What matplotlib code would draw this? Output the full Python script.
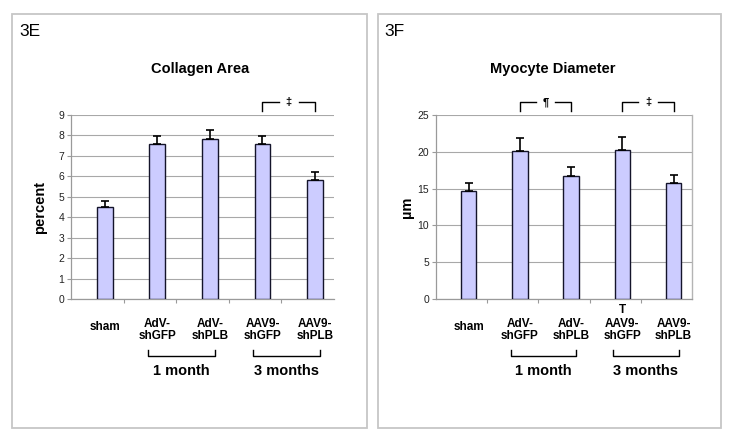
import matplotlib
matplotlib.use("Agg")
import matplotlib.pyplot as plt
import matplotlib.transforms as mtransforms
from matplotlib.patches import Rectangle
from matplotlib.lines import Line2D
import numpy as np

plt.rcParams['font.family'] = ['Liberation Sans', 'DejaVu Sans']

# ---------------- data ----------------
categories = ["sham", "AdV-\nshGFP", "AdV-\nshPLB", "AAV9-\nshGFP", "AAV9-\nshPLB"]
collagen = [4.5, 7.6, 7.85, 7.6, 5.82]
collagen_err = [0.3, 0.37, 0.4, 0.38, 0.4]
diameter = [14.7, 20.1, 16.7, 20.25, 15.7]
diameter_err = [1.1, 1.75, 1.2, 1.75, 1.2]
collagen_ticks = [0, 1, 2, 3, 4, 5, 6, 7, 8, 9]
diameter_ticks = [0, 5, 10, 15, 20, 25]
group_labels = ["1 month", "3 months"]
group_spans = [(1, 2), (3, 4)]

W, H = 735, 438
fig = plt.figure(figsize=(W / 100, H / 100), dpi=100)


def pxbox(x0, y0, x1, y1):
    return [x0 / W, 1 - y1 / H, (x1 - x0) / W, (y1 - y0) / H]


def ftext(x, y, s, **kw):
    fig.text(x / W, 1 - y / H, s, **kw)


# panel frames
for (x0, y0, x1, y1) in [(12, 14, 367, 428), (378, 14, 721, 428)]:
    fig.add_artist(Rectangle((x0 / W, 1 - y1 / H), (x1 - x0) / W, (y1 - y0) / H,
                             transform=fig.transFigure, fill=False,
                             edgecolor='#c6c6c6', lw=1.3))

BAR = '#ccccff'
EDGE = '#14142a'
GRID = '#a8a8a8'
AXC = '#9a9a9a'


def panel(box, values, errs, ticks, ylim, sig, right_border, stray_t=False):
    ax = fig.add_axes(pxbox(*box))
    x = np.arange(len(values))
    ax.set_xlim(-0.64, 4.36)
    ax.set_ylim(*ylim)
    ax.set_yticks(ticks)
    ax.set_yticklabels([str(t) for t in ticks], fontsize=7.5, color='#222222')
    ax.yaxis.grid(True, color=GRID, lw=0.8, zorder=0)
    ax.set_axisbelow(True)
    ax.set_xticks(np.arange(len(values) - 1) + 0.36)
    ax.set_xticklabels([])
    ax.tick_params(axis='x', direction='out', length=3, color=AXC, width=0.8)
    ax.tick_params(axis='y', direction='out', length=3, color=AXC, width=0.8, pad=2)
    for s in ['left', 'bottom']:
        ax.spines[s].set_color(AXC)
        ax.spines[s].set_linewidth(0.9)
    ax.spines['top'].set_visible(False)
    if right_border:
        ax.spines['right'].set_color('#b4b4b4')
        ax.spines['right'].set_linewidth(1.0)
    else:
        ax.spines['right'].set_visible(False)

    ax.bar(x, values, width=0.3, color=BAR, edgecolor=EDGE, linewidth=1.0, zorder=3)
    ax.errorbar(x, values, yerr=[np.zeros(len(values)), errs], fmt='none',
                ecolor='black', elinewidth=1.2, capsize=3, capthick=1.2, zorder=4)

    tr = mtransforms.blended_transform_factory(ax.transData, ax.transAxes)
    for i, lab in enumerate(categories):
        yy = -0.153 if '\n' not in lab else -0.168
        ax.text(x[i], yy, lab, transform=tr, ha='center', va='center',
                fontsize=8.5, fontweight='bold', linespacing=1.05)
    for (a, b), g in zip(group_spans, group_labels):
        x0, x1 = a - 0.18, b + 0.1
        ax.add_line(Line2D([x0, x0, x1, x1], [-0.277, -0.31, -0.31, -0.277],
                           transform=tr, color='black', lw=1.0, clip_on=False))
        ax.text((x0 + x1) / 2, -0.392, g, transform=tr, ha='center', va='center',
                fontsize=10.5, fontweight='bold')
    for (a, b, sym) in sig:
        xc = (a + b) / 2
        gap = 0.19
        ax.add_line(Line2D([a, a, xc - gap], [1.022, 1.071, 1.071], transform=tr,
                           color='black', lw=1.0, clip_on=False))
        ax.add_line(Line2D([xc + gap, b, b], [1.071, 1.071, 1.022], transform=tr,
                           color='black', lw=1.0, clip_on=False))
        ax.text(xc, 1.068, sym, transform=tr, ha='center', va='center',
                fontsize=8, fontweight='bold')
    if stray_t:
        ax.text(3, -0.06, "T", transform=tr, ha='center', va='center',
                fontsize=8.5, fontweight='bold')
    return ax


panel((71, 115, 334, 299), collagen, collagen_err, collagen_ticks, (0, 9),
      [(3, 4, "\u2021")], right_border=False)
panel((436, 115, 692, 299), diameter, diameter_err, diameter_ticks, (0, 25),
      [(1, 2, "\u00b6"), (3, 4, "\u2021")], right_border=True, stray_t=True)

ftext(19, 31, "3E", fontsize=12.5, va='center', ha='left')
ftext(384, 31, "3F", fontsize=12.5, va='center', ha='left')
ftext(200, 69, "Collagen Area", fontsize=10.5, fontweight='bold', ha='center', va='center')
ftext(553, 69, "Myocyte Diameter", fontsize=10.5, fontweight='bold', ha='center', va='center')
ftext(40, 208, "percent", fontsize=10.5, fontweight='bold', rotation=90, ha='center', va='center')
ftext(407, 207, "\u00b5m", fontsize=10.5, fontweight='bold', rotation=90, ha='center', va='center')

fig.savefig("out.png", dpi=100)
